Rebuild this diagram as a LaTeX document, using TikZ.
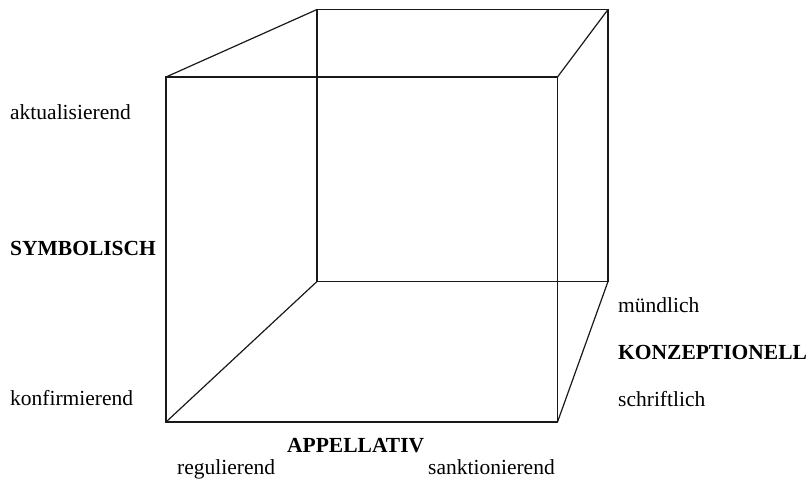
\documentclass[tikz,border=0pt]{standalone}
\usepackage{fontspec}
\setmainfont{Liberation Serif}
\begin{document}
\begin{tikzpicture}[x=1pt,y=-1pt,
  edge/.style={line width=1.2pt,black!90},
  lbl/.style={inner sep=0pt,font=\fontsize{21.5}{24}\selectfont},
  blbl/.style={inner sep=0pt,font=\fontsize{21.5}{24}\selectfont\bfseries}]
\useasboundingbox (0,0) rectangle (807,479);
% front face
\coordinate (fTL) at (166,77);
\coordinate (fTR) at (557.5,77);
\coordinate (fBL) at (166,422);
\coordinate (fBR) at (557.5,422);
% back face
\coordinate (bTL) at (317,9.5);
\coordinate (bTR) at (608,9.5);
\coordinate (bBL) at (317,281.5);
\coordinate (bBR) at (608,281.5);
\draw[edge] (fTL) -- (fTR) -- (fBR) -- (fBL) -- cycle;
\draw[edge] (bTL) -- (bTR) -- (bBR) -- (bBL) -- cycle;
\draw[edge] (fTL) -- (bTL);
\draw[edge] (fTR) -- (bTR);
\draw[edge] (fBL) -- (bBL);
\draw[edge] (fBR) -- (bBR);
% labels
\node[lbl,anchor=base west] (akt) at (10,119) {aktualisierend};
\node[blbl,anchor=base west] (sym) at (10,255) {SYMBOLISCH};
\node[lbl,anchor=base west] (konf) at (10,405) {konfirmierend};
\node[lbl,anchor=base west] (muend) at (618,312) {mündlich};
\node[blbl,anchor=base west] (konz) at (618,359) {KONZEPTIONELL};
\node[lbl,anchor=base west] (schr) at (618,406) {schriftlich};
\node[blbl,anchor=base west] (app) at (287,452) {APPELLATIV};
\node[lbl,anchor=base west] (reg) at (177,474) {regulierend};
\node[lbl,anchor=base west] (sank) at (428,474) {sanktionierend};
\end{tikzpicture}
\end{document}
